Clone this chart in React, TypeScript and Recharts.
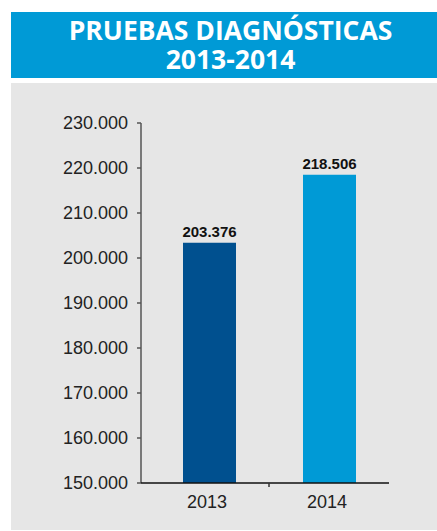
import React from 'react';
import { BarChart, Bar, XAxis, YAxis, LabelList, Cell } from 'recharts';

const categories = ['2013', '2014'];
const values = [203376, 218506];
const barColors = ['#00508f', '#009ad6'];
const yTicks = [150000, 160000, 170000, 180000, 190000, 200000, 210000, 220000, 230000];
const titleLines = ['PRUEBAS DIAGNÓSTICAS', '2013-2014'];

const data = categories.map((c, i) => ({ year: c, value: values[i] }));

const fmt = (v: number) => {
  const s = Math.round(v).toString();
  return s.replace(/\B(?=(\d{3})+(?!\d))/g, '.');
};

const XTick = (props: any) => {
  const { x, y, payload, index } = props;
  const half = payload && payload.offset ? payload.offset : 0;
  return (
    <g>
      {index > 0 && (
        <line x1={x - half} x2={x - half} y1={y - 12} y2={y - 8} stroke="#333" strokeWidth={1.5} />
      )}
      <text x={x - 2} y={y} dy="0.71em" textAnchor="middle" fontSize={18} fill="#222" fontFamily="'Liberation Sans', Arial, sans-serif">
        {payload.value}
      </text>
    </g>
  );
};

export default function App() {
  return (
    <div style={{ position: 'absolute', left: 0, top: 0, width: 437, height: 531, background: '#ffffff', overflow: 'hidden' }}>
      <div
        style={{
          position: 'absolute', left: 11, top: 12, width: 426, height: 66, background: '#009ad6',
          color: '#ffffff', fontFamily: "'Open Sans', sans-serif", fontWeight: 700, fontSize: 26.5,
          textAlign: 'center', paddingLeft: 13, paddingTop: 4, boxSizing: 'border-box',
        }}
      >
        {titleLines.map((t) => (
          <div key={t} style={{ height: 28.5, lineHeight: '28.5px', overflow: 'visible' }}>{t}</div>
        ))}
      </div>
      <div style={{ position: 'absolute', left: 11, top: 83, width: 426, height: 447, background: '#e6e6e6' }} />
      <div style={{ position: 'absolute', left: 0, top: 0 }}>
        <BarChart width={437} height={531} data={data} margin={{ top: 123, right: 48, bottom: 18, left: 0 }} barSize={53}>
          <YAxis
            width={141}
            domain={[150000, 230000]}
            ticks={yTicks}
            allowDataOverflow
            tickFormatter={fmt}
            tickSize={4}
            tickMargin={9}
            tick={{ fontSize: 18, fill: '#222', fontFamily: "'Liberation Sans', Arial, sans-serif" }}
            axisLine={{ stroke: '#555', strokeWidth: 1.5 }}
            tickLine={{ stroke: '#555', strokeWidth: 1.5 }}
          />
          <XAxis
            dataKey="year"
            height={30}
            padding={{ left: 8, right: 0 }}
            tickSize={4}
            tickMargin={8}
            tickLine={false}
            axisLine={{ stroke: '#111', strokeWidth: 1.5 }}
            tick={<XTick />}
          />
          <Bar dataKey="value" isAnimationActive={false}>
            {data.map((d, i) => (
              <Cell key={d.year} fill={barColors[i]} />
            ))}
            <LabelList
              dataKey="value"
              position="top"
              offset={6}
              formatter={(v: any) => fmt(Number(v))}
              style={{ fontSize: 15, fontWeight: 700, fill: '#111', fontFamily: "'Liberation Sans', Arial, sans-serif" }}
            />
          </Bar>
        </BarChart>
      </div>
    </div>
  );
}
